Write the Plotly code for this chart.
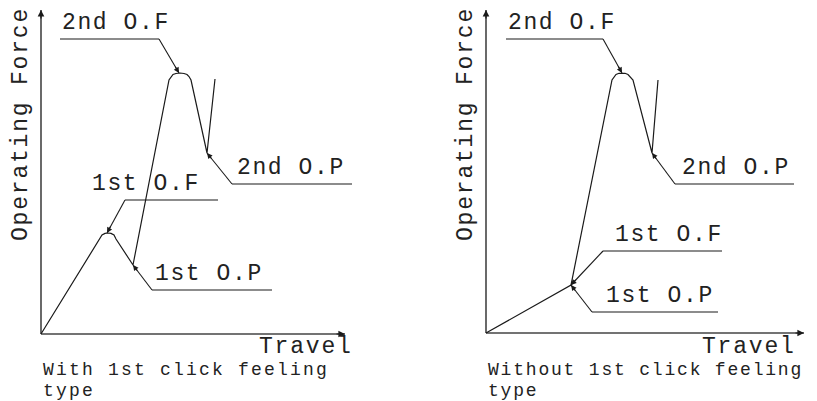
import plotly.graph_objects as go

W, H = 817, 401

# ---------------- data (units: travel, force) ----------------
# Left panel: "With 1st click feeling type"
L_curve_x = [0, 59, 61, 64, 67, 70, 73, 75, 92, 128, 130, 132, 135, 139, 143, 146, 148, 150, 166, 174]
L_curve_y = [0, 96, 99, 100.6, 101, 100.6, 99, 95, 69, 254, 257.5, 259.5, 260.5, 261, 260.5, 259.5, 257.5, 254, 181, 255]
L_labels = ["2nd O.F", "1st O.F", "1st O.P", "2nd O.P"]
L_under_x0 = [19, 84, 111, 191]
L_under_x1 = [118, 177, 231, 311]
L_under_y = [295, 134, 44, 150]
L_tip_x = [138, 66, 92, 166]
L_tip_y = [261, 101, 69, 181]
L_axis_len_x, L_axis_len_y = 304, 324

# Right panel: "Without 1st click feeling type"
R_curve_x = [0, 85, 126, 128, 130, 133, 136, 139, 142, 144, 147, 166, 172]
R_curve_y = [0, 48, 253, 256.5, 258.5, 259.7, 260, 259.7, 258.5, 256.5, 253, 180, 253]
R_labels = ["2nd O.F", "2nd O.P", "1st O.F", "1st O.P"]
R_under_x0 = [20, 189, 117, 106]
R_under_x1 = [117, 308, 236, 232]
R_under_y = [294, 149, 82, 21]
R_tip_x = [136, 166, 85, 85]
R_tip_y = [260, 180, 48, 48]
R_axis_len_x, R_axis_len_y = 318, 323

y_title = "Operating Force"
x_title = "Travel"
captions = [["With 1st click feeling", "type"], ["Without 1st click feeling", "type"]]

# ---------------- figure ----------------
FONT = "Liberation Mono"
INK = "#1a1a1a"
TXT = "#222222"
AXC = "#444444"

def spaced(t, ls):
    return '<span style="letter-spacing:%.1fpx">%s</span>' % (ls, t)

fig = go.Figure()
ann = []

def px2paper(px, py):
    return px / W, 1 - py / H

panels = [
    dict(xa="x", ya="y", ox=41, oy=334, cx=L_curve_x, cy=L_curve_y, labels=L_labels,
         ux0=L_under_x0, ux1=L_under_x1, uy=L_under_y, tx=L_tip_x, ty=L_tip_y,
         alx=L_axis_len_x, aly=L_axis_len_y, travel_px=355, cap_ls=2.2),
    dict(xa="x2", ya="y2", ox=486, oy=333, cx=R_curve_x, cy=R_curve_y, labels=R_labels,
         ux0=R_under_x0, ux1=R_under_x1, uy=R_under_y, tx=R_tip_x, ty=R_tip_y,
         alx=R_axis_len_x, aly=R_axis_len_y, travel_px=798, cap_ls=1.8),
]

# text left offset relative to the underline start (layout only)
label_dx = {
    (0, "2nd O.F"): 0, (0, "1st O.F"): -35, (0, "1st O.P"): 1, (0, "2nd O.P"): 3,
    (1, "2nd O.F"): 0, (1, "2nd O.P"): 5, (1, "1st O.F"): 10, (1, "1st O.P"): 12,
}

for k, p in enumerate(panels):
    xa, ya = p["xa"], p["ya"]
    # axes
    fig.add_trace(go.Scatter(x=[0, 0, None, 0, p["alx"]], y=[p["aly"], 0, None, 0, 0],
                             mode="lines", line=dict(color=AXC, width=1.6),
                             xaxis=xa, yaxis=ya, hoverinfo="skip", showlegend=False))
    for (ax_, ay_, x_, y_) in [(0, p["aly"] - 10, 0, p["aly"]), (p["alx"] - 10, 0, p["alx"], 0)]:
        ann.append(dict(x=x_, y=y_, ax=ax_, ay=ay_, xref=xa, yref=ya, axref=xa, ayref=ya,
                        text="", showarrow=True, arrowhead=2, arrowsize=1.1, arrowwidth=1.2,
                        arrowcolor=INK, standoff=0))
    # curve
    fig.add_trace(go.Scatter(x=p["cx"], y=p["cy"], mode="lines",
                             line=dict(color=INK, width=1.2),
                             xaxis=xa, yaxis=ya, hoverinfo="skip", showlegend=False))
    # leaders and underlines
    for i, lab in enumerate(p["labels"]):
        x0, x1, yy, tx, ty = p["ux0"][i], p["ux1"][i], p["uy"][i], p["tx"][i], p["ty"][i]
        start = x1 if lab == "2nd O.F" else x0
        fig.add_trace(go.Scatter(x=[x0, x1, None, start, tx], y=[yy, yy, None, yy, ty],
                                 mode="lines", line=dict(color=INK, width=1.1),
                                 xaxis=xa, yaxis=ya, hoverinfo="skip", showlegend=False))
        dx, dy = start - tx, yy - ty
        n = (dx * dx + dy * dy) ** 0.5
        ann.append(dict(x=tx, y=ty, ax=tx + dx / n * 9, ay=ty + dy / n * 9,
                        xref=xa, yref=ya, axref=xa, ayref=ya, text="", showarrow=True,
                        arrowhead=2, arrowsize=1.0, arrowwidth=1.1, arrowcolor=INK, standoff=0))
        ann.append(dict(x=x0 + label_dx[(k, lab)], y=yy + 1, xref=xa, yref=ya,
                        text=spaced(lab, 1.6), showarrow=False,
                        xanchor="left", yanchor="bottom",
                        font=dict(family=FONT, size=23, color=TXT)))
    # axis titles
    vx, vy = px2paper(p["ox"] - 20, 124)
    ann.append(dict(x=vx, y=vy, xref="paper", yref="paper", text=spaced(y_title, 1.8),
                    textangle=-90, showarrow=False, xanchor="center", yanchor="middle",
                    font=dict(family=FONT, size=23, color=TXT)))
    tx_, ty_ = px2paper(p["travel_px"], 347)
    ann.append(dict(x=tx_, y=ty_, xref="paper", yref="paper", text=spaced(x_title, 1.8),
                    showarrow=False, xanchor="right", yanchor="middle",
                    font=dict(family=FONT, size=23, color=TXT)))
    for j, line in enumerate(captions[k]):
        cx_, cy_ = px2paper(p["ox"] + 1, 370.2 + 20.4 * j)
        ann.append(dict(x=cx_, y=cy_, xref="paper", yref="paper", text=spaced(line, p["cap_ls"]),
                        showarrow=False, xanchor="left", yanchor="middle", align="left",
                        borderpad=0, font=dict(family=FONT, size=18, color=TXT)))

for a in ann:
    fig.add_annotation(**a)

common = dict(visible=False, showgrid=False, zeroline=False, fixedrange=True)
fig.update_layout(
    width=W, height=H, margin=dict(l=0, r=0, t=0, b=0, autoexpand=False),
    paper_bgcolor="white", plot_bgcolor="rgba(0,0,0,0)",
    showlegend=False,
    xaxis=dict(range=[-41, W - 41], domain=[0, 1], anchor="y", **common),
    yaxis=dict(range=[-(H - 334), 334], domain=[0, 1], anchor="x", **common),
    xaxis2=dict(range=[-486, W - 486], domain=[0, 1], anchor="y2", **common),
    yaxis2=dict(range=[-(H - 333), 333], domain=[0, 1], anchor="x2", **common),
)

fig.write_html("out.html", config={"displayModeBar": False},
               post_script="document.body.style.margin='0';document.body.style.overflow='hidden';")
